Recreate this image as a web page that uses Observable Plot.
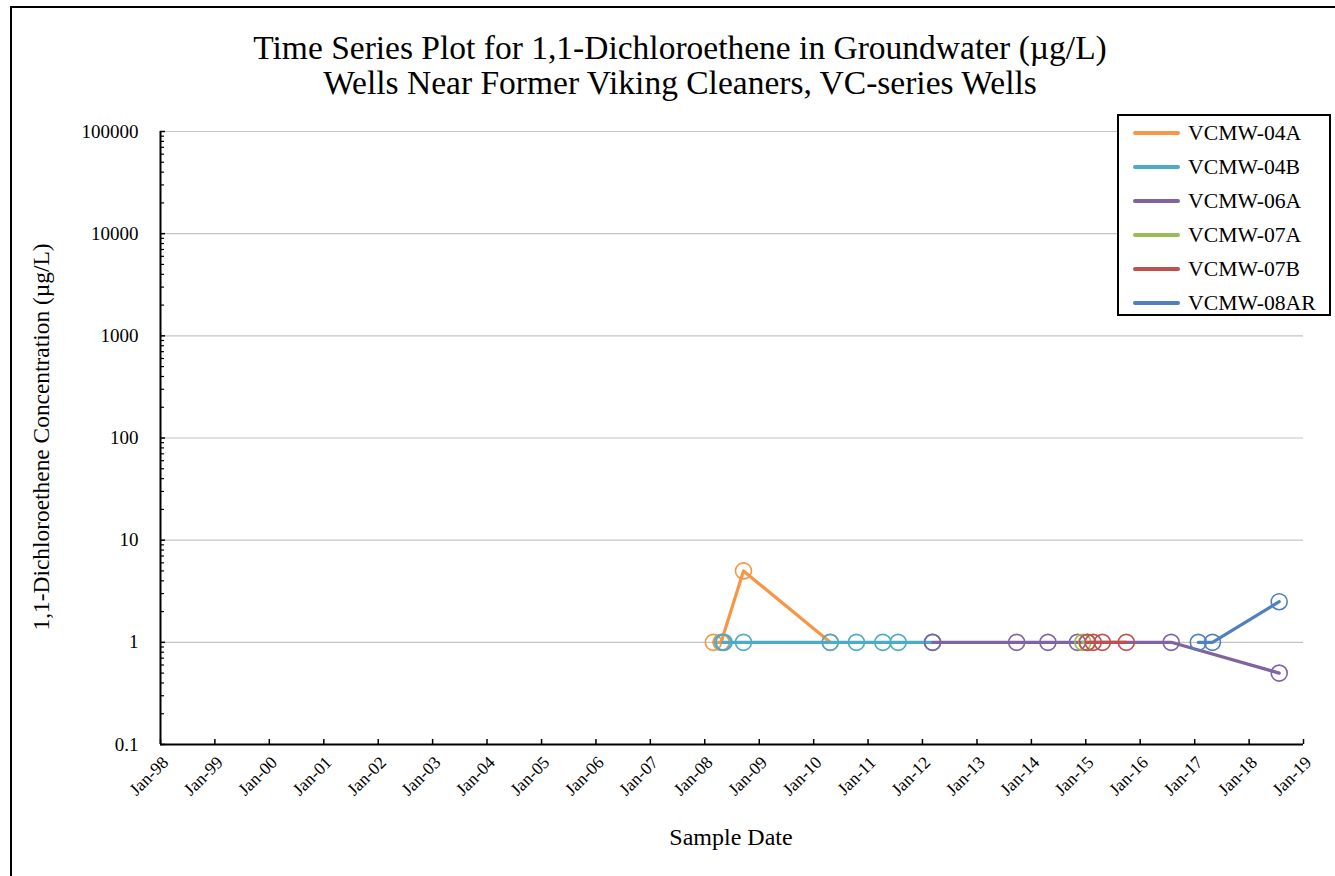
<!DOCTYPE html>
<html>
<head>
<meta charset="utf-8">
<script src="https://cdn.jsdelivr.net/npm/d3@7"></script>
<script src="https://cdn.jsdelivr.net/npm/@observablehq/plot@0.6"></script>
<style>
  html, body { margin: 0; padding: 0; background: #fff; overflow: hidden; width: 1335px; height: 876px; }
  body { position: relative; font-family: "Liberation Serif", "Times New Roman", serif; color: #000; }
  #frame { position: absolute; left: 10px; top: 6px; width: 1400px; height: 1000px; border: 2px solid #000; box-sizing: border-box; }
  #title { position: relative; height: 110px; }
  .tline { position: absolute; left: 0; width: 1360px; text-align: center; font-size: 33.5px; line-height: 33.5px; white-space: nowrap; }
  #chart { position: relative; }
  #ylabel { position: absolute; left: 41px; top: 437px; transform: translate(-50%, -50%) rotate(-90deg); font-size: 23.4px; white-space: nowrap; }
  #xlabel { position: absolute; left: 731px; top: 837px; transform: translate(-50%, -50%); font-size: 24px; white-space: nowrap; }
  #legend { position: absolute; left: 1117px; top: 114px; width: 214px; height: 202px; border: 2px solid #000; box-sizing: border-box; background: #fff; }
  .lg { position: absolute; left: 0; height: 34px; display: flex; align-items: center; }
  .lg .sw { width: 47px; height: 4px; margin-left: 14px; margin-right: 8px; border-radius: 2px; }
  .lg span { font-size: 21.7px; }
</style>
</head>
<body>
<div id="frame"></div>
<div id="title">
  <div class="tline" style="top:31px">Time Series Plot for 1,1-Dichloroethene in Groundwater (µg/L)</div>
  <div class="tline" style="top:66px">Wells Near Former Viking Cleaners, VC-series Wells</div>
</div>
<div id="chart"></div>
<div id="ylabel">1,1-Dichloroethene Concentration (µg/L)</div>
<div id="xlabel">Sample Date</div>
<div id="legend"></div>
<script>
// ---- Data ----
const seriesNames = ["VCMW-04A", "VCMW-04B", "VCMW-06A", "VCMW-07A", "VCMW-07B", "VCMW-08AR"];
const seriesColors = ["#F79646", "#4BACC6", "#8064A2", "#9BBB59", "#C0504D", "#4F81BD"];

const dates04A = ["2008-02-28", "2008-04-20", "2008-09-17", "2010-04-22"];
const values04A = [1, 1, 5, 1];

const dates04B = ["2008-04-30", "2008-05-10", "2008-09-17", "2010-04-22", "2010-10-15", "2011-04-10", "2011-07-22", "2012-03-07"];
const values04B = [1, 1, 1, 1, 1, 1, 1, 1];

const dates06A = ["2012-03-10", "2013-09-24", "2014-04-22", "2014-11-06", "2016-07-27", "2018-07-22"];
const values06A = [1, 1, 1, 1, 1, 0.5];

const dates07A = ["2014-12-12", "2015-01-08"];
const values07A = [1, 1];

const dates07B = ["2015-01-12", "2015-02-20", "2015-04-22", "2015-09-30"];
const values07B = [1, 1, 1, 1];

const dates08AR = ["2017-01-25", "2017-04-30", "2018-07-22"];
const values08AR = [1, 1, 2.5];

const yTicks = [0.1, 1, 10, 100, 1000, 10000, 100000];
const yTickLabels = ["0.1", "1", "10", "100", "1000", "10000", "100000"];
const xStartYear = 1998, xEndYear = 2019;

// ---- Build table ----
const seriesDates = [dates04A, dates04B, dates06A, dates07A, dates07B, dates08AR];
const seriesValues = [values04A, values04B, values06A, values07A, values07B, values08AR];
const rows = [];
seriesNames.forEach((s, k) => {
  seriesDates[k].forEach((d, i) => rows.push({series: s, date: new Date(d + "T00:00:00Z"), value: seriesValues[k][i]}));
});
const xTicks = d3.range(xStartYear, xEndYear + 1).map(y => new Date(Date.UTC(y, 0, 1)));
const fmt = d3.utcFormat("%b-%y");
// minor log ticks (2..9 within each decade)
const yMinor = [];
yTicks.slice(0, -1).forEach(t => { for (let m = 2; m <= 9; m++) yMinor.push(+(t * m).toPrecision(3)); });

const perSeriesMarks = [];
seriesNames.forEach(s => {
  const data = rows.filter(r => r.series === s);
  perSeriesMarks.push(Plot.line(data, {x: "date", y: "value", stroke: "series", strokeWidth: 3.2}));
  perSeriesMarks.push(Plot.dot(data, {x: "date", y: "value", stroke: "series", r: 8, strokeWidth: 1.6, fill: "none"}));
});

const x0 = xTicks[0];
const chart = Plot.plot({
  width: 1335,
  height: 766,
  marginTop: 21,
  marginBottom: 132,
  marginLeft: 160,
  marginRight: 32,
  style: {fontFamily: "'Liberation Serif', 'Times New Roman', serif", fontSize: "19px", background: "transparent", color: "#000"},
  x: {type: "utc", domain: [xTicks[0], xTicks[xTicks.length - 1]]},
  y: {type: "log", domain: [yTicks[0], yTicks[yTicks.length - 1]]},
  color: {domain: seriesNames, range: seriesColors},
  marks: [
    Plot.ruleY(yTicks.slice(1), {stroke: "#c4c4c4", strokeWidth: 1.2}),
    Plot.axisY({ticks: yTicks, tickFormat: (d) => yTickLabels[yTicks.indexOf(d)], tickSize: 0, tickPadding: 22, fontSize: 19, label: null}),
    Plot.axisX({ticks: xTicks, tickFormat: fmt, tickRotate: -45, tickSize: 0, tickPadding: 15, dx: 5, fontSize: 17.5, label: null}),
    // inward tick marks
    Plot.ruleX(xTicks, {x: d => d, y1: yTicks[0], y2: yTicks[0], insetTop: -5, stroke: "#000", strokeWidth: 1.5}),
    Plot.ruleY(yTicks, {y: d => d, x1: x0, x2: x0, insetRight: -5, stroke: "#000", strokeWidth: 1.5}),
    Plot.ruleY(yMinor, {y: d => d, x1: x0, x2: x0, insetRight: -4, stroke: "#000", strokeWidth: 1.2}),
    Plot.ruleX([x0], {stroke: "#000", strokeWidth: 2}),
    Plot.ruleY([yTicks[0]], {stroke: "#000", strokeWidth: 2}),
    ...perSeriesMarks
  ]
});
document.getElementById("chart").appendChild(chart);

// legend
const lg = document.getElementById("legend");
seriesNames.forEach((s, i) => {
  const row = document.createElement("div");
  row.className = "lg";
  row.style.top = (i * 34) + "px";
  row.innerHTML = `<div class="sw" style="background:${seriesColors[i]}"></div><span>${s}</span>`;
  lg.appendChild(row);
});
</script>
</body>
</html>
